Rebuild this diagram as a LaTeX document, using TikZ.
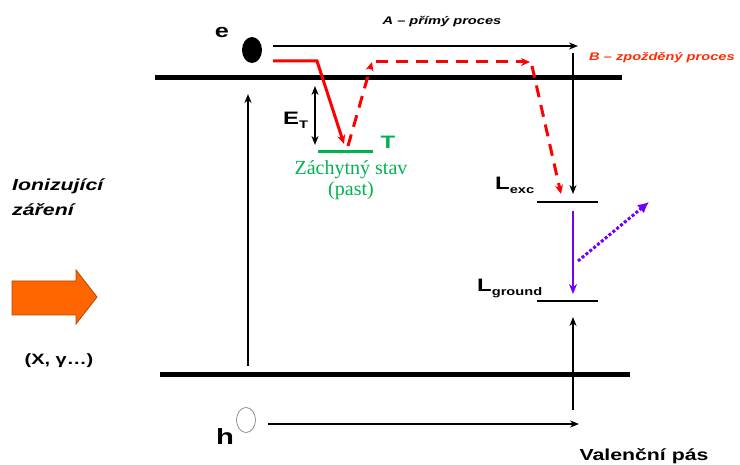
\documentclass[tikz,border=0pt]{standalone}
\usepackage{fontspec}
\setmainfont{Liberation Sans}
\newfontfamily\wide{Liberation Sans}[FakeStretch=1.33]
\newfontfamily\ser{Liberation Serif}
\usetikzlibrary{arrows.meta,shapes.geometric}
\definecolor{myred}{RGB}{255,0,0}
\definecolor{bred}{RGB}{255,45,0}
\definecolor{mygreen}{RGB}{0,178,80}
\definecolor{mypurple}{RGB}{110,0,255}
\definecolor{myorange}{RGB}{255,102,0}
\newcommand{\fs}[1]{\fontsize{#1}{#1}\selectfont}
\newcommand{\sbs}[1]{\raisebox{-3.5pt}{\fs{11}#1}}
\begin{document}
\begin{tikzpicture}[x=1pt,y=-1pt,
  band/.style={line width=5pt,black},
  lvl/.style={line width=2.5pt,black},
  arr/.style={line width=2pt,-{Stealth[length=9pt,width=7pt]}},
  redarr/.style={line width=3pt,myred,-{Stealth[length=9pt,width=8pt]}},
  reddash/.style={redarr,dash pattern=on 12pt off 8pt},
  lbl/.style={inner sep=0pt,font=\wide\bfseries},
  every node/.style={inner sep=0pt}]
\useasboundingbox (0,0) rectangle (740,465);
% bands
\coordinate (cbL) at (155,78); \coordinate (cbR) at (622,78);
\coordinate (vbL) at (160,375); \coordinate (vbR) at (630,375);
\draw[band] (cbL) -- (cbR);
\draw[band] (vbL) -- (vbR);
% electron and hole
\node[ellipse,fill=black,minimum width=20pt,minimum height=26pt] (el) at (252,50) {};
\node[ellipse,draw=gray,line width=0.7pt,minimum width=19pt,minimum height=25pt] (hole) at (246,420) {};
\node[lbl,font=\wide\bfseries\fs{19}] (e) at (222,32) {e};
\node[lbl,font=\wide\bfseries\fs{22}] (h) at (225,437) {h};
% A direct process
\coordinate (aS) at (273,46); \coordinate (aE) at (578,46);
\draw[arr] (aS) -- (aE);
\node[lbl,font=\wide\bfseries\itshape\fs{11}] (alab) at (442,22) {A – přímý proces};
\coordinate (vS) at (573,53); \coordinate (vE) at (573,194);
\draw[arr] (vS) -- (vE);
% levels
\coordinate (lexcL) at (537,202); \coordinate (lexcR) at (598,202);
\coordinate (lgrL) at (537,301); \coordinate (lgrR) at (598,301);
\draw[lvl] (lexcL) -- (lexcR);
\draw[lvl] (lgrL) -- (lgrR);
\node[lbl,font=\wide\bfseries\fs{18},anchor=base west] (lexc) at (495,190) {L\sbs{exc}};
\node[lbl,font=\wide\bfseries\fs{18},anchor=base west] (lgr) at (477,292) {L\sbs{ground}};
% purple emission
\coordinate (pS) at (573,211); \coordinate (pE) at (573,294);
\draw[line width=2.5pt,mypurple,-{Stealth[length=10pt,width=8pt]}] (pS) -- (pE);
\coordinate (dS) at (578,261); \coordinate (dE) at (649,202);
\draw[line width=3pt,mypurple,dotted,-{Latex[length=11pt,width=11pt]}] (dS) -- (dE);
% valence up arrow and hole arrow
\coordinate (uS) at (573,410); \coordinate (uE) at (573,317);
\draw[arr] (uS) -- (uE);
\coordinate (hS) at (268,424); \coordinate (hE) at (579,424);
\draw[arr] (hS) -- (hE);
% excitation arrow
\coordinate (exS) at (248,366); \coordinate (exE) at (248,94);
\draw[arr] (exS) -- (exE);
% trap
\coordinate (etT) at (315,86); \coordinate (etB) at (315,145);
\draw[line width=2pt,{Stealth[length=9pt,width=7pt]}-{Stealth[length=9pt,width=7pt]}] (etT) -- (etB);
\node[lbl,font=\wide\bfseries\fs{18},anchor=base west] (et) at (283,125) {E\sbs{T}};
\coordinate (tL) at (318,152); \coordinate (tR) at (373,152);
\draw[line width=3pt,mygreen] (tL) -- (tR);
\node[lbl,font=\wide\bfseries\fs{18},text=mygreen] (tlab) at (388,142) {T};
\node[font=\ser\fs{20},text=mygreen,align=center] (trap) at (351,180) {Záchytný stav\\[1pt](past)};
% red solid path (capture)
\coordinate (r1) at (273,61); \coordinate (r2) at (317,61); \coordinate (r3) at (344,144);
\draw[redarr] (r1) -- (r2) -- (r3);
% red dashed path (delayed)
\coordinate (d1) at (348,146); \coordinate (d2) at (372,62);
\coordinate (d3) at (376,62); \coordinate (d4) at (530,62);
\coordinate (d5) at (532,66); \coordinate (d6) at (561,194);
\draw[reddash] (d1) -- (d2);
\draw[reddash] (d3) -- (d4);
\draw[reddash] (d5) -- (d6);
\node[lbl,font=\wide\bfseries\itshape\fs{11},text=bred,anchor=west] (blab) at (589,58) {B – zpožděný proces};
% ionizing radiation
\node[lbl,font=\wide\bfseries\itshape\fs{16},anchor=base west] (ion1) at (12,191) {Ionizující};
\node[lbl,font=\wide\bfseries\itshape\fs{16},anchor=base west] (ion2) at (12,216) {záření};
\draw[fill=myorange,draw=myorange!70!black,line width=0.8pt]
  (12,281) -- (76,281) -- (76,270) -- (97,297) -- (76,324) -- (76,315) -- (12,315) -- cycle;
\node[lbl,font=\wide\bfseries\fs{15}] (xg) at (59,361) {(X, γ…)};
\node[lbl,font=\wide\bfseries\fs{16}] (val) at (644,456) {Valenční pás};
\end{tikzpicture}
\end{document}
